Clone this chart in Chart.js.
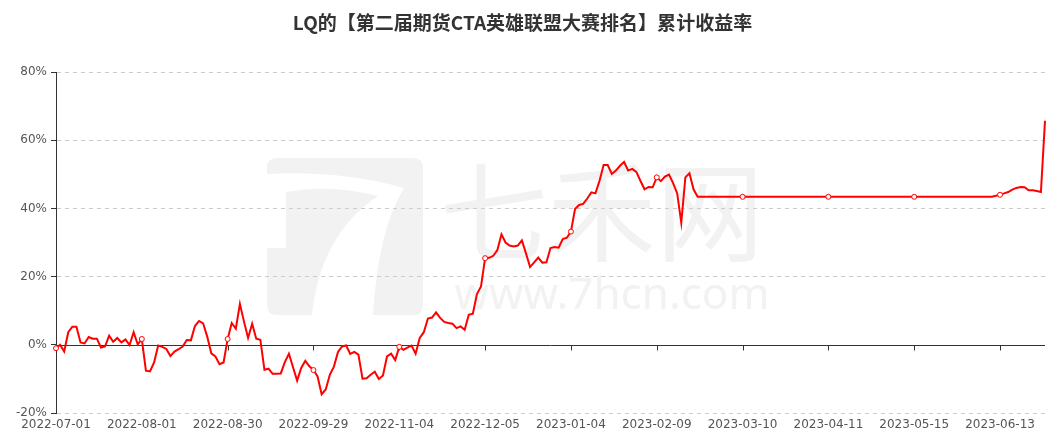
<!DOCTYPE html>
<html><head><meta charset="utf-8">
<script src="https://cdn.jsdelivr.net/npm/chart.js@4/dist/chart.umd.min.js"></script>
<style>html,body{margin:0;padding:0;background:#fff}#wrap{width:1061px;height:441px;position:relative}</style>
</head><body><div id="wrap"><canvas id="c"></canvas></div>
<script>
const titleText = 'LQ的【第二届期货CTA英雄联盟大赛排名】累计收益率';
const tickLabels = ['2022-07-01','2022-08-01','2022-08-30','2022-09-29','2022-11-04','2022-12-05',
  '2023-01-04','2023-02-09','2023-03-10','2023-04-11','2023-05-15','2023-06-13'];
const labelStep = 21;
const yMin = -20, yMax = 80, yStep = 20;
// cumulative return (%) per trading day
const returns = [
  -1.0, 0.0, -2.0, 3.7, 5.3, 5.3, 0.7, 0.4, 2.3, 1.8,
  1.8, -0.8, -0.5, 2.7, 0.9, 2.0, 0.7, 1.6, -0.1, 3.7,
  0.1, 1.7, -7.6, -7.8, -5.2, -0.2, -0.6, -1.2, -3.3, -2.0,
  -1.3, -0.5, 1.4, 1.3, 5.5, 7.0, 6.3, 2.4, -2.5, -3.4,
  -5.7, -5.2, 1.7, 6.4, 4.7, 12.0, 6.8, 2.0, 6.2, 1.8,
  1.5, -7.3, -7.0, -8.5, -8.5, -8.4, -5.1, -2.6, -6.6, -10.5,
  -6.8, -4.7, -6.3, -7.4, -9.3, -14.5, -13.1, -8.8, -6.4, -2.1,
  -0.5, -0.2, -2.7, -2.1, -2.9, -9.9, -9.8, -8.8, -7.9, -10.0,
  -9.0, -3.4, -2.6, -4.5, -0.6, -1.5, -0.8, -0.2, -2.6, 2.0,
  3.7, 7.7, 8.0, 9.5, 7.9, 6.7, 6.4, 6.2, 4.9, 5.4,
  4.4, 8.8, 9.1, 14.9, 17.1, 25.4, 25.5, 26.1, 27.8, 32.4,
  30.0, 29.1, 28.8, 29.1, 30.6, 26.8, 22.8, 24.2, 25.6, 24.1,
  24.2, 28.4, 28.7, 28.5, 31.0, 31.4, 33.2, 39.8, 41.0, 41.3,
  42.9, 44.7, 44.4, 48.1, 52.7, 52.7, 50.1, 51.1, 52.5, 53.6,
  51.1, 51.6, 50.7, 48.1, 45.6, 46.3, 46.2, 49.1, 48.0, 49.3,
  49.9, 47.4, 44.4, 35.8, 49.1, 50.3, 45.6, 43.4, 43.4, 43.4,
  43.4, 43.4, 43.4, 43.4, 43.4, 43.4, 43.4, 43.4, 43.4, 43.4,
  43.4, 43.4, 43.4, 43.4, 43.4, 43.4, 43.4, 43.4, 43.4, 43.4,
  43.4, 43.4, 43.4, 43.4, 43.4, 43.4, 43.4, 43.4, 43.4, 43.4,
  43.4, 43.4, 43.4, 43.4, 43.4, 43.4, 43.4, 43.4, 43.4, 43.4,
  43.4, 43.4, 43.4, 43.4, 43.4, 43.4, 43.4, 43.4, 43.4, 43.4,
  43.4, 43.4, 43.4, 43.4, 43.4, 43.4, 43.4, 43.4, 43.4, 43.4,
  43.4, 43.4, 43.4, 43.4, 43.4, 43.4, 43.4, 43.4, 43.4, 43.4,
  43.7, 44.0, 44.4, 44.8, 45.5, 46.0, 46.3, 46.2, 45.3, 45.3,
  45.1, 44.8, 65.7
];
const categories = returns.map((v, i) => i % labelStep === 0 ? (tickLabels[i / labelStep] || '') : '');

const watermark = {
  id: 'watermark',
  beforeDraw(chart) {
    const ctx = chart.ctx;
    ctx.save();
    ctx.fillStyle = '#f2f2f2';
    // logo: stylised "7"
    ctx.beginPath();
    ctx.moveTo(277, 158); ctx.lineTo(413, 158); ctx.quadraticCurveTo(423, 158, 423, 168);
    ctx.lineTo(423, 305); ctx.quadraticCurveTo(423, 315, 413, 315); ctx.lineTo(373, 315);
    ctx.quadraticCurveTo(378, 230, 404, 188); ctx.quadraticCurveTo(340, 170, 267, 174);
    ctx.lineTo(267, 168); ctx.quadraticCurveTo(267, 158, 277, 158);
    ctx.closePath(); ctx.fill();
    ctx.beginPath();
    ctx.moveTo(286, 192); ctx.quadraticCurveTo(330, 184, 378, 196);
    ctx.quadraticCurveTo(320, 235, 312, 315); ctx.lineTo(277, 315);
    ctx.quadraticCurveTo(267, 315, 267, 305); ctx.lineTo(267, 248); ctx.lineTo(286, 248);
    ctx.closePath(); ctx.fill();
    ctx.textAlign = 'center'; ctx.textBaseline = 'middle';
    ctx.font = '108px "Noto Sans CJK SC"';
    ctx.fillText('七禾网', 602, 212);
    ctx.font = '44px "Noto Sans"';
    ctx.fillText('www.7hcn.com', 612, 296);
    ctx.restore();
  }
};

const zeroAxis = {
  id: 'zeroAxis',
  beforeDatasetsDraw(chart) {
    const { ctx, chartArea: a, scales: { x, y } } = chart;
    const y0 = Math.round(y.getPixelForValue(0)) + 0.5;
    ctx.save();
    ctx.strokeStyle = '#333'; ctx.lineWidth = 1;
    ctx.beginPath();
    ctx.moveTo(a.left, y0); ctx.lineTo(a.right, y0);
    categories.forEach((c, i) => {
      if (c) { const px = Math.round(x.getPixelForValue(i)) + 0.5; ctx.moveTo(px, y0); ctx.lineTo(px, y0 + 5); }
    });
    ctx.stroke();
    ctx.restore();
  }
};

const tickFont = { family: '"DejaVu Sans"', size: 12 };
new Chart(document.getElementById('c'), {
  type: 'line',
  data: {
    labels: categories,
    datasets: [{
      data: returns,
      borderColor: '#ff0000', borderWidth: 2, tension: 0, fill: false,
      pointRadius: c => c.dataIndex % labelStep === 0 ? 2.5 : 0,
      pointHoverRadius: 0,
      pointBackgroundColor: '#ffffff', pointBorderColor: '#ff0000', pointBorderWidth: 1,
      clip: false
    }]
  },
  options: {
    responsive: true, maintainAspectRatio: false, animation: false,
    layout: { padding: { left: 0, right: 16, top: 0, bottom: 0 } },
    plugins: {
      legend: { display: false }, tooltip: { enabled: false },
      title: { display: true, text: titleText, color: '#333',
        font: { family: '"Noto Sans CJK SC"', size: 19, weight: 'bold' },
        padding: { top: 11, bottom: 38.2 } }
    },
    scales: {
      x: {
        type: 'category', offset: false,
        grid: { display: false, drawTicks: false }, border: { display: false },
        ticks: { autoSkip: false, maxRotation: 0, minRotation: 0, padding: 5, color: '#555', font: tickFont,
          callback: (v, i) => categories[i] },
        afterFit: s => { s.height = 28; }
      },
      y: {
        min: yMin, max: yMax,
        ticks: { stepSize: yStep, padding: 4, color: '#555', font: tickFont, callback: v => v + '%' },
        grid: { color: c => c.tick && c.tick.value === 0 ? 'rgba(0,0,0,0)' : '#cccccc', tickColor: '#333', tickLength: 5 },
        border: { display: true, color: '#333', width: 1, dash: [4, 4] },
        afterFit: s => { s.width = 56; }
      }
    }
  },
  plugins: [watermark, zeroAxis]
});
</script></body></html>
